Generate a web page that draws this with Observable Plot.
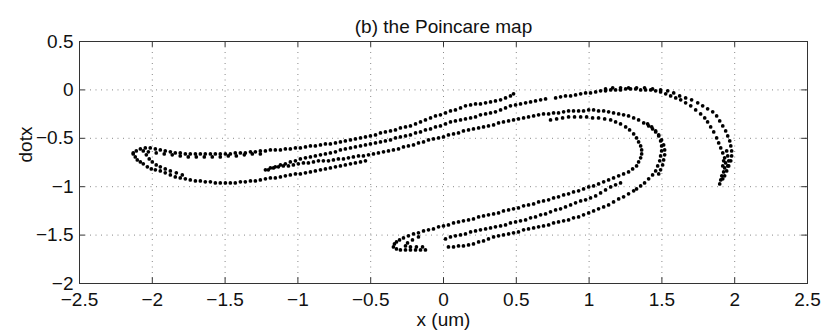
<!DOCTYPE html>
<html>
<head>
<meta charset="utf-8">
<script src="https://cdn.jsdelivr.net/npm/d3@7"></script>
<script src="https://cdn.jsdelivr.net/npm/@observablehq/plot@0.6"></script>
<style>
  html, body { margin: 0; padding: 0; background: #fff; }
</style>
</head>
<body>
<div id="chart"></div>
<script>
// ---- labels / ticks ----
const title = "(b) the Poincare map";
const xLabel = "x (um)";
const yLabel = "dotx";
const xTicks = [-2.5, -2, -1.5, -1, -0.5, 0, 0.5, 1, 1.5, 2, 2.5];
const yTicks = [-2, -1.5, -1, -0.5, 0, 0.5];

// ---- Poincaré section points, read strand by strand [x, dotx] ----
const hookTop = [[-2.131,-0.651],[-2.110,-0.630],[-2.082,-0.610],[-2.048,-0.599],[-2.014,-0.599],[-1.979,-0.610],[-1.945,-0.620],[-1.911,-0.630],[-1.876,-0.640],[-1.842,-0.651],[-1.808,-0.651],[-1.773,-0.661],[-1.739,-0.661],[-1.704,-0.661],[-1.670,-0.661],[-1.636,-0.661],[-1.601,-0.661],[-1.567,-0.661],[-1.533,-0.661],[-1.498,-0.661],[-1.464,-0.661],[-1.430,-0.651],[-1.395,-0.651],[-1.361,-0.651],[-1.326,-0.640],[-1.292,-0.640],[-1.258,-0.630],[-1.223,-0.630],[-1.189,-0.620],[-1.155,-0.620],[-1.120,-0.620],[-1.086,-0.610],[-1.052,-0.610],[-1.017,-0.599],[-0.983,-0.599],[-0.948,-0.589],[-0.914,-0.579],[-0.880,-0.579],[-0.845,-0.568],[-0.811,-0.558],[-0.777,-0.558],[-0.742,-0.548],[-0.708,-0.537],[-0.674,-0.527],[-0.639,-0.517],[-0.605,-0.506],[-0.570,-0.496],[-0.536,-0.486],[-0.502,-0.475],[-0.467,-0.465],[-0.433,-0.444],[-0.399,-0.434],[-0.364,-0.424],[-0.330,-0.413],[-0.296,-0.393],[-0.261,-0.382],[-0.227,-0.372],[-0.192,-0.351],[-0.158,-0.331],[-0.124,-0.310],[-0.089,-0.289],[-0.055,-0.269],[-0.021,-0.258],[0.014,-0.238],[0.048,-0.217],[0.082,-0.207],[0.117,-0.186],[0.151,-0.165],[0.186,-0.155],[0.220,-0.145],[0.254,-0.145],[0.289,-0.134],[0.323,-0.124],[0.357,-0.114],[0.392,-0.103],[0.426,-0.083],[0.460,-0.062],[0.481,-0.041]];

const hookTop2 = [[-2.027,-0.640],[-1.973,-0.651],[-1.918,-0.661],[-1.863,-0.671],[-1.808,-0.682],[-1.753,-0.692],[-1.698,-0.692],[-1.643,-0.692],[-1.588,-0.692],[-1.533,-0.692],[-1.478,-0.682],[-1.423,-0.682],[-1.368,-0.671],[-1.313,-0.661],[-1.258,-0.661]];

const hookOuter = [[-2.131,-0.661],[-2.117,-0.692],[-2.103,-0.723],[-2.082,-0.744],[-2.062,-0.764],[-2.034,-0.795],[-2.007,-0.816],[-1.979,-0.826],[-1.945,-0.837],[-1.911,-0.857],[-1.876,-0.878],[-1.842,-0.899],[-1.808,-0.909],[-1.773,-0.919],[-1.739,-0.930],[-1.704,-0.940],[-1.670,-0.940],[-1.636,-0.950],[-1.601,-0.950],[-1.567,-0.961],[-1.533,-0.961],[-1.498,-0.961],[-1.464,-0.961],[-1.430,-0.961],[-1.395,-0.950],[-1.361,-0.950],[-1.326,-0.940],[-1.292,-0.940],[-1.258,-0.930],[-1.223,-0.919],[-1.189,-0.909],[-1.155,-0.909],[-1.120,-0.899],[-1.086,-0.888],[-1.052,-0.878],[-1.017,-0.868],[-0.983,-0.868],[-0.948,-0.857],[-0.914,-0.847],[-0.880,-0.837],[-0.845,-0.826],[-0.811,-0.816],[-0.777,-0.806],[-0.742,-0.795],[-0.708,-0.785],[-0.674,-0.775],[-0.639,-0.764],[-0.605,-0.754],[-0.570,-0.744],[-0.536,-0.733]];

const hookInner = [[-2.062,-0.630],[-2.041,-0.671],[-2.021,-0.713],[-2.000,-0.744],[-1.973,-0.775],[-1.945,-0.795],[-1.911,-0.816],[-1.876,-0.837],[-1.835,-0.857],[-1.794,-0.878]];

const midUpper = [[-1.223,-0.826],[-1.189,-0.806],[-1.155,-0.795],[-1.120,-0.775],[-1.086,-0.764],[-1.052,-0.744],[-1.017,-0.733],[-0.983,-0.713],[-0.948,-0.702],[-0.914,-0.692],[-0.880,-0.682],[-0.845,-0.671],[-0.811,-0.661],[-0.777,-0.651],[-0.742,-0.640],[-0.708,-0.620],[-0.674,-0.610],[-0.639,-0.599],[-0.605,-0.589],[-0.570,-0.579],[-0.536,-0.568],[-0.502,-0.558],[-0.467,-0.548],[-0.433,-0.537],[-0.399,-0.527],[-0.364,-0.517],[-0.330,-0.496],[-0.296,-0.486],[-0.261,-0.475],[-0.227,-0.465],[-0.192,-0.444],[-0.158,-0.434],[-0.124,-0.413],[-0.089,-0.403],[-0.055,-0.382],[-0.021,-0.372],[0.014,-0.351],[0.048,-0.331],[0.082,-0.320],[0.117,-0.310],[0.151,-0.300],[0.186,-0.289],[0.220,-0.279],[0.254,-0.258],[0.289,-0.248],[0.323,-0.238],[0.357,-0.227],[0.392,-0.207],[0.426,-0.186],[0.460,-0.165],[0.495,-0.155],[0.529,-0.145],[0.564,-0.134],[0.598,-0.124],[0.632,-0.114],[0.667,-0.103],[0.701,-0.093]];

const midLower = [[-1.203,-0.826],[-1.168,-0.806],[-1.134,-0.795],[-1.100,-0.785],[-1.065,-0.785],[-1.031,-0.775],[-0.997,-0.764],[-0.962,-0.754],[-0.928,-0.754],[-0.893,-0.744],[-0.859,-0.733],[-0.825,-0.733],[-0.790,-0.733],[-0.756,-0.723],[-0.722,-0.713],[-0.687,-0.713],[-0.653,-0.702],[-0.619,-0.692],[-0.584,-0.682],[-0.550,-0.682],[-0.515,-0.671],[-0.481,-0.661],[-0.447,-0.651],[-0.412,-0.640],[-0.378,-0.630],[-0.344,-0.620],[-0.309,-0.610],[-0.275,-0.589],[-0.241,-0.579],[-0.206,-0.568],[-0.172,-0.548],[-0.137,-0.537],[-0.103,-0.517],[-0.069,-0.506],[-0.034,-0.496],[0.000,-0.486],[0.034,-0.465],[0.069,-0.455],[0.103,-0.444],[0.137,-0.424],[0.172,-0.413],[0.206,-0.403],[0.241,-0.393],[0.275,-0.382],[0.309,-0.372],[0.344,-0.362],[0.378,-0.341],[0.412,-0.331],[0.447,-0.320],[0.481,-0.310],[0.515,-0.300],[0.550,-0.289],[0.584,-0.279],[0.619,-0.269],[0.653,-0.258],[0.687,-0.248],[0.722,-0.248],[0.756,-0.238],[0.790,-0.238],[0.825,-0.227],[0.859,-0.217],[0.893,-0.217],[0.928,-0.217],[0.962,-0.217],[0.997,-0.207],[1.031,-0.207],[1.065,-0.217],[1.100,-0.217],[1.134,-0.227],[1.168,-0.238],[1.203,-0.248],[1.237,-0.258],[1.271,-0.269],[1.306,-0.289],[1.340,-0.310],[1.375,-0.341],[1.409,-0.372],[1.436,-0.403],[1.457,-0.434],[1.478,-0.475],[1.491,-0.527],[1.498,-0.579],[1.498,-0.630],[1.491,-0.682],[1.485,-0.733],[1.471,-0.785],[1.457,-0.837],[1.436,-0.878],[1.409,-0.919],[1.381,-0.961],[1.354,-0.992],[1.326,-1.023]];

const innerArcThick = [[1.402,-0.351],[1.430,-0.382],[1.457,-0.424],[1.478,-0.465],[1.498,-0.517],[1.512,-0.568],[1.519,-0.620],[1.519,-0.671],[1.512,-0.723],[1.505,-0.775],[1.491,-0.826],[1.478,-0.868]];

const bottomLow = [[1.306,-1.043],[1.271,-1.074],[1.237,-1.105],[1.203,-1.126],[1.168,-1.157],[1.134,-1.188],[1.100,-1.209],[1.065,-1.229],[1.031,-1.250],[0.997,-1.271],[0.962,-1.291],[0.928,-1.312],[0.893,-1.322],[0.859,-1.343],[0.825,-1.353],[0.790,-1.364],[0.756,-1.374],[0.722,-1.395],[0.687,-1.405],[0.653,-1.415],[0.619,-1.426],[0.584,-1.436],[0.550,-1.446],[0.515,-1.467],[0.481,-1.477],[0.447,-1.488],[0.412,-1.498],[0.378,-1.508],[0.344,-1.519],[0.309,-1.539],[0.275,-1.560],[0.241,-1.570],[0.206,-1.591],[0.172,-1.601],[0.137,-1.612],[0.103,-1.612],[0.069,-1.622],[0.034,-1.622]];

const bottomMid = [[0.014,-1.539],[0.048,-1.519],[0.082,-1.508],[0.117,-1.498],[0.151,-1.488],[0.186,-1.467],[0.220,-1.457],[0.254,-1.446],[0.289,-1.436],[0.323,-1.426],[0.357,-1.415],[0.392,-1.405],[0.426,-1.395],[0.460,-1.374],[0.495,-1.364],[0.529,-1.353],[0.564,-1.343],[0.598,-1.322],[0.632,-1.312],[0.667,-1.291],[0.701,-1.281],[0.735,-1.260],[0.770,-1.240],[0.804,-1.229],[0.838,-1.209],[0.873,-1.188],[0.907,-1.167],[0.942,-1.147],[0.976,-1.136],[1.010,-1.116],[1.045,-1.095],[1.079,-1.064],[1.113,-1.033],[1.148,-1.002],[1.182,-0.981],[1.216,-0.961]];

const innerLoop = [[0.735,-0.310],[0.777,-0.300],[0.818,-0.289],[0.859,-0.279],[0.900,-0.279],[0.942,-0.279],[0.983,-0.279],[1.024,-0.289],[1.065,-0.289],[1.107,-0.300],[1.148,-0.310],[1.182,-0.331],[1.216,-0.351],[1.251,-0.382],[1.278,-0.413],[1.306,-0.455],[1.326,-0.496],[1.340,-0.537],[1.354,-0.579],[1.361,-0.620],[1.361,-0.661],[1.354,-0.702],[1.340,-0.744],[1.326,-0.785],[1.299,-0.816],[1.271,-0.847],[1.237,-0.868],[1.203,-0.888],[1.168,-0.909],[1.134,-0.930],[1.100,-0.950],[1.065,-0.971],[1.031,-0.992],[0.997,-1.002],[0.962,-1.023],[0.928,-1.043],[0.893,-1.054],[0.859,-1.074],[0.825,-1.085],[0.790,-1.105],[0.756,-1.116],[0.722,-1.136],[0.687,-1.147],[0.653,-1.157],[0.619,-1.178],[0.584,-1.188],[0.550,-1.198],[0.515,-1.219],[0.481,-1.229],[0.447,-1.240],[0.412,-1.250],[0.378,-1.271],[0.344,-1.281],[0.309,-1.291],[0.275,-1.302],[0.241,-1.312],[0.206,-1.333],[0.172,-1.343],[0.137,-1.353],[0.103,-1.364],[0.069,-1.374],[0.034,-1.395],[0.000,-1.405],[-0.034,-1.415],[-0.069,-1.436],[-0.103,-1.446],[-0.137,-1.457],[-0.172,-1.477],[-0.206,-1.488],[-0.241,-1.508],[-0.275,-1.529],[-0.302,-1.550],[-0.323,-1.570],[-0.337,-1.591],[-0.344,-1.622],[-0.323,-1.643],[-0.296,-1.653],[-0.261,-1.653],[-0.227,-1.653],[-0.192,-1.653],[-0.158,-1.653],[-0.124,-1.653]];

const tipInner = [[-0.172,-1.519],[-0.213,-1.550],[-0.247,-1.581],[-0.261,-1.612],[-0.227,-1.622],[-0.186,-1.622],[-0.144,-1.622]];

const arcOuter = [[0.770,-0.083],[0.804,-0.072],[0.838,-0.062],[0.873,-0.062],[0.907,-0.052],[0.942,-0.041],[0.976,-0.031],[1.010,-0.031],[1.045,-0.021],[1.079,-0.010],[1.113,-0.010],[1.148,0.000],[1.182,0.000],[1.216,0.000],[1.251,0.010],[1.285,0.010],[1.320,0.010],[1.354,0.000],[1.388,0.000],[1.423,0.000],[1.457,-0.010],[1.491,-0.021],[1.526,-0.041],[1.560,-0.062],[1.595,-0.083],[1.629,-0.103],[1.663,-0.134],[1.698,-0.165],[1.732,-0.207],[1.766,-0.248],[1.794,-0.289],[1.814,-0.331],[1.835,-0.382],[1.856,-0.434],[1.876,-0.496],[1.890,-0.548],[1.904,-0.599],[1.918,-0.651],[1.931,-0.702],[1.938,-0.754],[1.931,-0.806],[1.924,-0.847],[1.911,-0.888],[1.904,-0.930],[1.897,-0.971]];

const arcOuter2 = [[1.113,0.010],[1.162,0.021],[1.216,0.021],[1.271,0.021],[1.326,0.021],[1.381,0.021],[1.436,0.010],[1.491,0.000],[1.540,-0.010],[1.581,-0.031],[1.622,-0.062],[1.663,-0.083],[1.704,-0.103],[1.746,-0.134],[1.780,-0.165],[1.814,-0.196],[1.849,-0.227],[1.876,-0.269],[1.897,-0.320],[1.918,-0.372],[1.938,-0.424],[1.952,-0.475],[1.966,-0.527],[1.973,-0.579],[1.979,-0.630],[1.979,-0.682],[1.973,-0.733],[1.959,-0.785]];

const hookRight = [[1.945,-0.630],[1.952,-0.682],[1.959,-0.733],[1.952,-0.785],[1.945,-0.837],[1.931,-0.888],[1.918,-0.919],[1.924,-0.733],[1.918,-0.785]];

const strands = [hookTop, hookTop2, hookOuter, hookInner, midUpper, midLower, innerArcThick,
                 bottomLow, bottomMid, innerLoop, tipInner, arcOuter, arcOuter2, hookRight];

const fmt = d => String(d).replace("-", "\u2212");
const axisColor = "#333";
const tickLen = {x: 0.06, y: 0.04};
const fs = 19;

const chart = Plot.plot({
  width: 835,
  height: 332,
  marginLeft: 79,
  marginRight: 28,
  marginTop: 41,
  marginBottom: 49,
  style: {fontFamily: "'Liberation Sans', Arial, sans-serif", fontSize: fs + "px", color: "#111", background: "#fff"},
  x: {domain: [-2.5, 2.5]},
  y: {domain: [-2, 0.5]},
  marks: [
    Plot.gridX(xTicks.slice(1, -1), {stroke: "#888", strokeOpacity: 1, strokeDasharray: "1,4.5"}),
    Plot.gridY(yTicks.slice(1, -1), {stroke: "#888", strokeOpacity: 1, strokeDasharray: "1,4.5"}),
    ...strands.map(s => Plot.dot(s, {x: d => d[0], y: d => d[1], r: 1.85, fill: "#000", stroke: null})),
    Plot.ruleX(xTicks, {y1: -2, y2: -2 + tickLen.x, stroke: axisColor}),
    Plot.ruleX(xTicks, {y1: 0.5, y2: 0.5 - tickLen.x, stroke: axisColor}),
    Plot.ruleY(yTicks, {x1: -2.5, x2: -2.5 + tickLen.y, stroke: axisColor}),
    Plot.ruleY(yTicks, {x1: 2.5, x2: 2.5 - tickLen.y, stroke: axisColor}),
    Plot.frame({stroke: axisColor}),
    Plot.axisX(xTicks, {tickSize: 0, tickPadding: 9, tickFormat: fmt, label: null, fontSize: fs}),
    Plot.axisY(yTicks, {tickSize: 0, tickPadding: 6, tickFormat: fmt, label: null, fontSize: fs}),
    Plot.text([title], {frameAnchor: "top", dy: -22, fontSize: fs}),
    Plot.text([xLabel], {frameAnchor: "bottom", dy: 42, fontSize: fs}),
    Plot.text([yLabel], {frameAnchor: "left", dx: -54, rotate: -90, fontSize: fs})
  ]
});
document.getElementById("chart").appendChild(chart);
</script>
</body>
</html>
